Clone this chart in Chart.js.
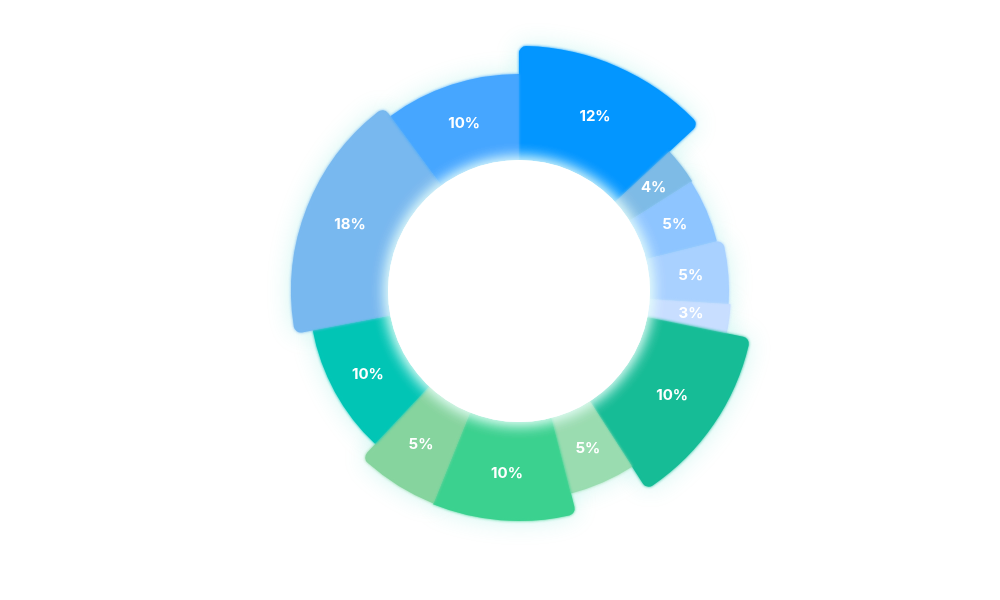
<!DOCTYPE html>
<html>
<head>
<meta charset="utf-8">
<script src="https://cdn.jsdelivr.net/npm/chart.js@4/dist/chart.umd.min.js"></script>
<style>
  html, body { margin: 0; padding: 0; background: #ffffff; }
  #wrap { width: 1000px; height: 600px; position: relative; }
</style>
</head>
<body>
<div id="wrap"><canvas id="c"></canvas></div>
<script>
// ---- data (clockwise from 12 o'clock) ----
const categories = ['S1', 'S2', 'S3', 'S4', 'S5', 'S6', 'S7', 'S8', 'S9', 'S10', 'S11', 'S12'];
const shares = [13.1, 2.9, 5.1, 4.9, 2.2, 12.7, 5.1, 10.1, 5.9, 10.0, 17.9, 10.1];
const percentLabels = ['12%', '4%', '5%', '5%', '3%', '10%', '5%', '10%', '5%', '10%', '18%', '10%'];

// ---- styles ----
const sliceColors = ['#0396FF', '#7EBBE6', '#8EC5FF', '#A9D1FF', '#C8DEFF', '#16BC96',
                     '#9ADCB0', '#3BD18F', '#86D49E', '#01C5B5', '#78B8EF', '#46A6FF'];
const HOLE_R = 131;
const sliceThickness = [114, 74, 73, 79, 81, 105, 78, 99, 98, 79, 97, 86];

function cornerRadius(c) {
  const n = sliceThickness.length, i = c.dataIndex;
  const t = sliceThickness[i];
  const prev = sliceThickness[(i - 1 + n) % n], next = sliceThickness[(i + 1) % n];
  return {
    outerStart: t > prev + 2 ? 7 : 0,
    outerEnd: t > next + 2 ? 7 : 0,
    innerStart: 0,
    innerEnd: 0
  };
}

const shapePlugin = {
  id: 'shape',
  afterDatasetUpdate(chart, args) {
    args.meta.data.forEach((el, i) => {
      el.innerRadius = HOLE_R - 4;
      el.outerRadius = HOLE_R + sliceThickness[i];
    });
  },
  beforeDatasetDraw(chart) {
    const ctx = chart.ctx;
    ctx.save();
    ctx.shadowColor = 'rgba(40,215,190,0.22)';
    ctx.shadowBlur = 24;
  },
  afterDatasetDraw(chart, args) {
    const ctx = chart.ctx;
    ctx.restore();
    ctx.save();
    ctx.filter = 'blur(1.6px)';
    args.meta.controller.draw();
    ctx.restore();
  },
  afterDatasetsDraw(chart) {
    const ctx = chart.ctx;
    const meta = chart.getDatasetMeta(0);
    const cx = meta.data[0].x, cy = meta.data[0].y;
    ctx.save();
    ctx.beginPath();
    ctx.arc(cx, cy, HOLE_R, 0, Math.PI * 2);
    ctx.fillStyle = '#ffffff';
    ctx.shadowColor = 'rgba(232,255,250,1)';
    ctx.shadowBlur = 16;
    ctx.fill();
    ctx.fill();
    ctx.restore();

    ctx.save();
    ctx.fillStyle = '#ffffff';
    ctx.font = '700 15px Inter';
    ctx.textAlign = 'center';
    ctx.textBaseline = 'middle';
    meta.data.forEach((arc, i) => {
      const mid = (arc.startAngle + arc.endAngle) / 2;
      const r = (HOLE_R + arc.outerRadius) / 2 + 2;
      ctx.fillText(percentLabels[i], arc.x + Math.cos(mid) * r, arc.y + Math.sin(mid) * r);
    });
    ctx.restore();
  }
};

new Chart(document.getElementById('c'), {
  type: 'doughnut',
  data: {
    labels: categories,
    datasets: [{
      data: shares,
      backgroundColor: sliceColors,
      borderWidth: 0,
      borderRadius: cornerRadius
    }]
  },
  options: {
    responsive: true,
    maintainAspectRatio: false,
    animation: false,
    events: [],
    cutout: HOLE_R - 4,
    layout: { padding: { left: 38, right: 0, top: 0, bottom: 18 } },
    plugins: { legend: { display: false }, tooltip: { enabled: false } }
  },
  plugins: [shapePlugin]
});
</script>
</body>
</html>
